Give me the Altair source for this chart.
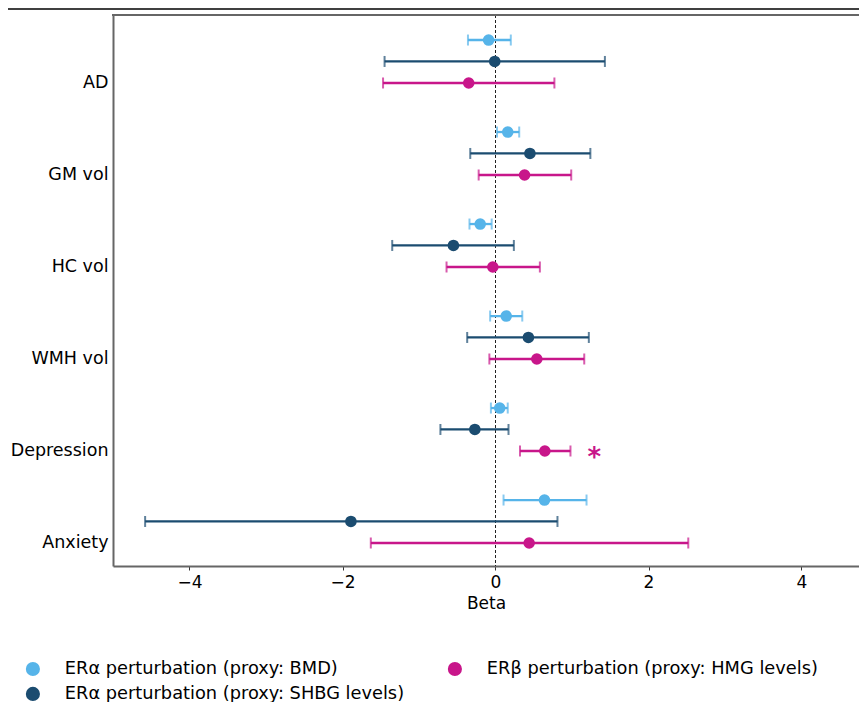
import altair as alt
import pandas as pd

categories = ["AD", "GM vol", "HC vol", "WMH vol", "Depression", "Anxiety"]
series = [
    "ERα perturbation (proxy: BMD)",
    "ERα perturbation (proxy: SHBG levels)",
    "ERβ perturbation (proxy: HMG levels)",
]
colors = ["#56B4E9", "#1B4C70", "#C8168A"]

# beta, lower CI, upper CI per category (order as categories)
bmd_beta = [-0.09, 0.16, -0.20, 0.14, 0.055, 0.64]
bmd_lo = [-0.36, 0.02, -0.34, -0.07, -0.06, 0.105]
bmd_hi = [0.20, 0.31, -0.05, 0.35, 0.16, 1.19]

shbg_beta = [-0.01, 0.45, -0.55, 0.43, -0.27, -1.89]
shbg_lo = [-1.45, -0.33, -1.35, -0.37, -0.72, -4.58]
shbg_hi = [1.43, 1.24, 0.24, 1.22, 0.17, 0.81]

hmg_beta = [-0.35, 0.38, -0.035, 0.54, 0.645, 0.44]
hmg_lo = [-1.47, -0.22, -0.64, -0.08, 0.32, -1.63]
hmg_hi = [0.77, 0.99, 0.58, 1.16, 0.98, 2.52]

star_category = "Depression"
star_x = 1.29

# vertical offsets of each series within a category row (in row units)
series_offset = [-0.467, -0.234, 0.0]

rows = []
for s_i, (name, b, lo, hi) in enumerate([
    (series[0], bmd_beta, bmd_lo, bmd_hi),
    (series[1], shbg_beta, shbg_lo, shbg_hi),
    (series[2], hmg_beta, hmg_lo, hmg_hi),
]):
    for c_i, cat in enumerate(categories):
        rows.append({
            "category": cat,
            "series": name,
            "pos": c_i + series_offset[s_i],
            "beta": b[c_i],
            "lo": lo[c_i],
            "hi": hi[c_i],
        })
df = pd.DataFrame(rows)

PX_PER_UNIT = 76.5
W = 746
H = 551
xmin = -5.0
xmax = xmin + W / PX_PER_UNIT
ymin, ymax = -0.739, 5.25

FONT = "DejaVu Sans"

xscale = alt.Scale(domain=[xmin, xmax], nice=False, zero=False)
yscale = alt.Scale(domain=[ymin, ymax], reverse=True, nice=False, zero=False)
color_scale = alt.Scale(domain=series, range=colors)

label_expr = "[" + ",".join("'" + c + "'" for c in categories) + "][datum.value]"

legend = alt.Legend(
    title=None, orient="none", legendX=-89, legendY=645,
    columns=2, columnPadding=41, rowPadding=6,
    symbolType="circle", symbolSize=200, symbolStrokeWidth=0,
    symbolOpacity=1,
    labelFont=FONT, labelFontSize=17.8, labelColor="black",
    labelOffset=23, padding=0, labelLimit=600,
)
color_enc = alt.Color("series:N", scale=color_scale, legend=legend)

base = alt.Chart(df)

x_axis = alt.Axis(values=[-4, -2, 0, 2, 4], title="Beta", grid=False,
                  domain=True, domainColor="#666666", domainWidth=2,
                  tickColor="#333333", tickSize=4, tickWidth=1,
                  labelFont=FONT, labelFontSize=17, labelColor="black",
                  labelPadding=4, titleFont=FONT, titleFontSize=17,
                  titleFontWeight="normal", titleColor="black", titlePadding=5,
                  labelExpr="replace(format(datum.value, 'd'), '-', '−')")
y_axis = alt.Axis(values=[0, 1, 2, 3, 4, 5], title=None, grid=False,
                  domain=True, domainColor="#666666", domainWidth=2,
                  ticks=False, labelExpr=label_expr, labelFont=FONT,
                  labelFontSize=17.5, labelColor="black", labelPadding=5)

bars = base.mark_rule(strokeWidth=2.3).encode(
    x=alt.X("lo:Q", scale=xscale, axis=x_axis),
    x2="hi:Q",
    y=alt.Y("pos:Q", scale=yscale, axis=y_axis),
    color=color_enc,
)

cap_lo = base.mark_tick(orient="vertical", size=11, thickness=2).encode(
    x=alt.X("lo:Q", scale=xscale),
    y=alt.Y("pos:Q", scale=yscale),
    color=color_enc,
)
cap_hi = base.mark_tick(orient="vertical", size=11, thickness=2).encode(
    x=alt.X("hi:Q", scale=xscale),
    y=alt.Y("pos:Q", scale=yscale),
    color=color_enc,
)

zero_df = pd.DataFrame({"x": [0.0]})
zero_line = alt.Chart(zero_df).mark_rule(
    color="#222222", strokeWidth=1, strokeDash=[3, 2]
).encode(x=alt.X("x:Q", scale=xscale), y=alt.value(0), y2=alt.value(H))

points = base.mark_circle(size=135, opacity=1).encode(
    x=alt.X("beta:Q", scale=xscale),
    y=alt.Y("pos:Q", scale=yscale),
    color=color_enc,
)

star_df = pd.DataFrame({"x": [star_x], "pos": [categories.index(star_category)]})
star = alt.Chart(star_df).mark_text(
    text="*", fontSize=26, fontWeight="bold", color=colors[2],
    baseline="middle", align="center", dy=7, font=FONT
).encode(x=alt.X("x:Q", scale=xscale), y=alt.Y("pos:Q", scale=yscale))

frame_top = alt.Chart(zero_df).mark_rule(color="#666666", strokeWidth=2).encode(
    x=alt.value(-1), x2=alt.value(W + 2), y=alt.value(0)
)
fig_line = alt.Chart(zero_df).mark_rule(color="black", strokeWidth=1.5, clip=False).encode(
    x=alt.value(-110), x2=alt.value(W + 10), y=alt.value(-6)
)

chart = alt.layer(
    zero_line, bars, cap_lo, cap_hi, points, star, frame_top, fig_line
).properties(
    width=W, height=H,
    autosize=alt.AutoSizeParams(type="none"),
    padding={"left": 105, "top": 7, "right": 0, "bottom": 136},
).configure_view(strokeWidth=0, strokeOpacity=0)

chart.save("out.html", embed_options={"renderer": "svg", "actions": False})
